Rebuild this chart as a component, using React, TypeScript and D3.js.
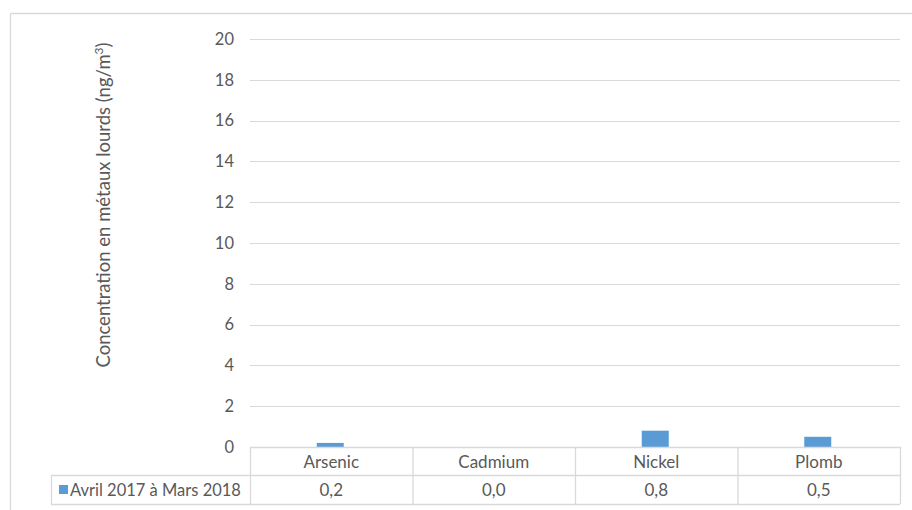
import React from "react";
import * as d3 from "d3";

const categories = ["Arsenic", "Cadmium", "Nickel", "Plomb"];
const seriesName = "Avril 2017 à Mars 2018";
const values = [0.2, 0.0, 0.8, 0.5];
const valueLabels = ["0,2", "0,0", "0,8", "0,5"];
const yTicks = [0, 2, 4, 6, 8, 10, 12, 14, 16, 18, 20];

const W = 912;
const H = 510;
const FONT = "Lato, 'Open Sans', sans-serif";
const TXT = "#595959";
const GRID = "#d9d9d9";
const BAR = "#5b9bd5";

export default function App() {
  const plotLeft = 250;
  const plotRight = 900;
  const plotTop = 39;
  const plotBottom = 447;
  const tableRow1 = 475;
  const tableBottom = 504;
  const legendLeft = 51;

  const x = d3.scaleBand<string>().domain(categories).range([plotLeft, plotRight]).paddingInner(0).paddingOuter(0);
  const y = d3.scaleLinear().domain([0, 20]).range([plotBottom, plotTop]);
  const barW = 27;

  return (
    <svg width={W} height={H} style={{ position: "absolute", left: 0, top: 0, background: "#fff" }} fontFamily={FONT}>
      {/* outer frame */}
      <line x1={10.5} y1={13.5} x2={W} y2={13.5} stroke={GRID} strokeWidth={1.3} />
      <line x1={10.5} y1={13.5} x2={10.5} y2={H} stroke={GRID} strokeWidth={1.3} />

      {/* gridlines & ticks */}
      {yTicks.map((t) => (
        <g key={t}>
          {t !== 0 && (
            <line x1={plotLeft} x2={plotRight} y1={Math.round(y(t)) + 0.5} y2={Math.round(y(t)) + 0.5} stroke={GRID} strokeWidth={1} />
          )}
          <text x={234} y={y(t)} dy="0.35em" textAnchor="end" fontSize={16.5} fill={TXT}>
            {t}
          </text>
        </g>
      ))}

      {/* y title */}
      <text
        transform={`translate(110,${(38 + 372) / 2}) rotate(-90)`}
        textAnchor="middle"
        fontSize={18.5}
        fill={TXT}
      >
        Concentration en métaux lourds (ng/m<tspan baselineShift="super" fontSize={12}>3</tspan>)
      </text>

      {/* bars */}
      {categories.map((c, i) => (
        <rect
          key={c}
          x={x(c)! + x.bandwidth() / 2 - barW / 2 - 1}
          y={y(values[i])}
          width={barW}
          height={plotBottom - y(values[i])}
          fill={BAR}
        />
      ))}

      {/* data table */}
      <g stroke={GRID} strokeWidth={1.3} fill="none">
        <line x1={plotLeft} x2={plotRight} y1={plotBottom + 0.5} y2={plotBottom + 0.5} />
        <line x1={legendLeft} x2={plotRight} y1={tableRow1 + 0.5} y2={tableRow1 + 0.5} />
        <line x1={legendLeft} x2={plotRight} y1={tableBottom + 0.5} y2={tableBottom + 0.5} />
        <line x1={legendLeft + 0.5} x2={legendLeft + 0.5} y1={tableRow1} y2={tableBottom} />
        {categories.map((c) => (
          <line key={c} x1={x(c)! + 0.5} x2={x(c)! + 0.5} y1={plotBottom} y2={tableBottom} />
        ))}
        <line x1={plotRight + 0.5} x2={plotRight + 0.5} y1={plotBottom} y2={tableBottom} />
      </g>
      {categories.map((c, i) => (
        <g key={c}>
          <text x={x(c)! + x.bandwidth() / 2} y={(plotBottom + tableRow1) / 2 + 1} dy="0.35em" textAnchor="middle" fontSize={17} fill={TXT}>
            {c}
          </text>
          <text x={x(c)! + x.bandwidth() / 2} y={(tableRow1 + tableBottom) / 2 + 1} dy="0.35em" textAnchor="middle" fontSize={17} fill={TXT}>
            {valueLabels[i]}
          </text>
        </g>
      ))}
      <rect x={59} y={485} width={9} height={9} fill={BAR} />
      <text x={70} y={(tableRow1 + tableBottom) / 2 + 1} dy="0.35em" fontSize={16.5} fill={TXT}>
        {seriesName}
      </text>
    </svg>
  );
}
